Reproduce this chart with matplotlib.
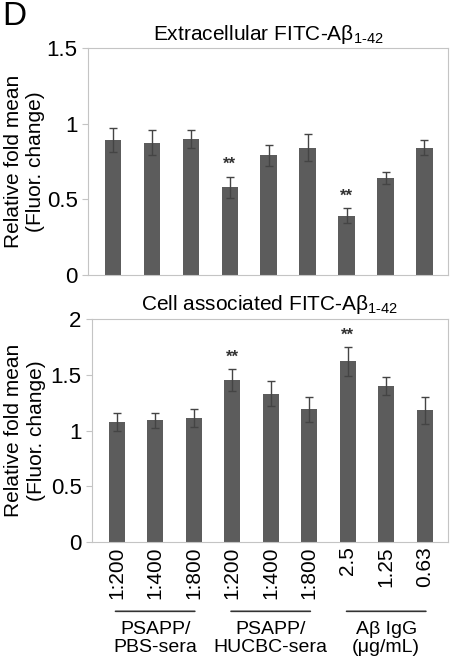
import matplotlib.pyplot as plt
import numpy as np

plt.rcParams['font.family'] = ['Liberation Sans', 'DejaVu Sans']
plt.rcParams['mathtext.fontset'] = 'custom'
plt.rcParams['mathtext.rm'] = 'Liberation Sans'
plt.rcParams['mathtext.it'] = 'Liberation Sans'

# data
conditions = ['1:200', '1:400', '1:800', '1:200', '1:400', '1:800', '2.5', '1.25', '0.63']
extra_mean = [0.89, 0.875, 0.90, 0.58, 0.79, 0.84, 0.39, 0.64, 0.84]
extra_err = [0.08, 0.08, 0.06, 0.07, 0.07, 0.09, 0.05, 0.04, 0.05]
cell_mean = [1.08, 1.09, 1.11, 1.45, 1.33, 1.19, 1.62, 1.40, 1.18]
cell_err = [0.08, 0.07, 0.08, 0.10, 0.11, 0.11, 0.13, 0.08, 0.12]
extra_sig = [3, 6]
cell_sig = [3, 6]
groups = ['PSAPP/\nPBS-sera', 'PSAPP/\nHUCBC-sera', 'A\u03b2 IgG\n(\u03bcg/mL)']
group_members = [(0, 2), (3, 5), (6, 8)]

bar_color = '#5c5c5c'
spine_color = '#c4c4c4'
sub = '$_{\\mathregular{1\u201142}}$'

fig = plt.figure(figsize=(4.51, 6.67), dpi=100)
ax1 = fig.add_axes([0.195, 0.588, 0.798, 0.340])
ax2 = fig.add_axes([0.204, 0.187, 0.789, 0.335])

x = np.arange(len(conditions))


def draw(ax, mean, err, sig, ymax, step, title):
    ax.bar(x, mean, width=0.42, color=bar_color, zorder=2)
    ax.errorbar(x, mean, yerr=err, fmt='none', ecolor='#444444',
                elinewidth=1, capsize=3, capthick=1, zorder=3)
    for i in sig:
        ax.text(x[i], mean[i] + err[i] + ymax * 0.02, '**', ha='center',
                va='bottom', fontsize=12, fontweight='bold', color='#333333')
    ax.set_xlim(-0.64, 8.6)
    ax.set_ylim(0, ymax)
    ax.set_yticks(np.arange(0, ymax + 0.01, step))
    ax.set_yticklabels(['%g' % v for v in np.arange(0, ymax + 0.01, step)])
    for s in ax.spines.values():
        s.set_color(spine_color)
    ax.tick_params(axis='y', labelsize=16, color=spine_color, length=4)
    ax.tick_params(axis='x', length=0)
    ax.set_ylabel('Relative fold mean\n(Fluor. change)', fontsize=15,
                  linespacing=1.2, va='center')
    # put the label centre about 25 px from the left edge of the figure
    bbox = ax.get_position()
    ax.yaxis.set_label_coords((25 / 451 - bbox.x0) / bbox.width, 0.5)
    ax.set_title(title, fontsize=15, pad=6)


draw(ax1, extra_mean, extra_err, extra_sig, 1.5, 0.5,
     'Extracellular FITC-A\u03b2' + sub)
ax1.set_xticks([])
draw(ax2, cell_mean, cell_err, cell_sig, 2, 0.5,
     'Cell associated FITC-A\u03b2' + sub)
ax2.set_xticks(x)
ax2.set_xticklabels(conditions, rotation=90, fontsize=15)
ax2.tick_params(axis='x', pad=3)

# group brackets under the tick labels
for name, (a, b) in zip(groups, group_members):
    ax2.annotate('', xy=(a - 0.03, -0.309), xytext=(b + 0.03, -0.309),
                 xycoords=('data', 'axes fraction'),
                 textcoords=('data', 'axes fraction'),
                 arrowprops=dict(arrowstyle='-', color='#333333', lw=1.2,
                                 shrinkA=0, shrinkB=0),
                 annotation_clip=False)
    ax2.text((a + b) / 2, -0.352, name, ha='center', va='top', fontsize=14,
             linespacing=1.05, transform=ax2.get_xaxis_transform())

fig.text(0.005, 0.998, 'D', fontsize=24, ha='left', va='top')

fig.savefig('out.png', dpi=100)
